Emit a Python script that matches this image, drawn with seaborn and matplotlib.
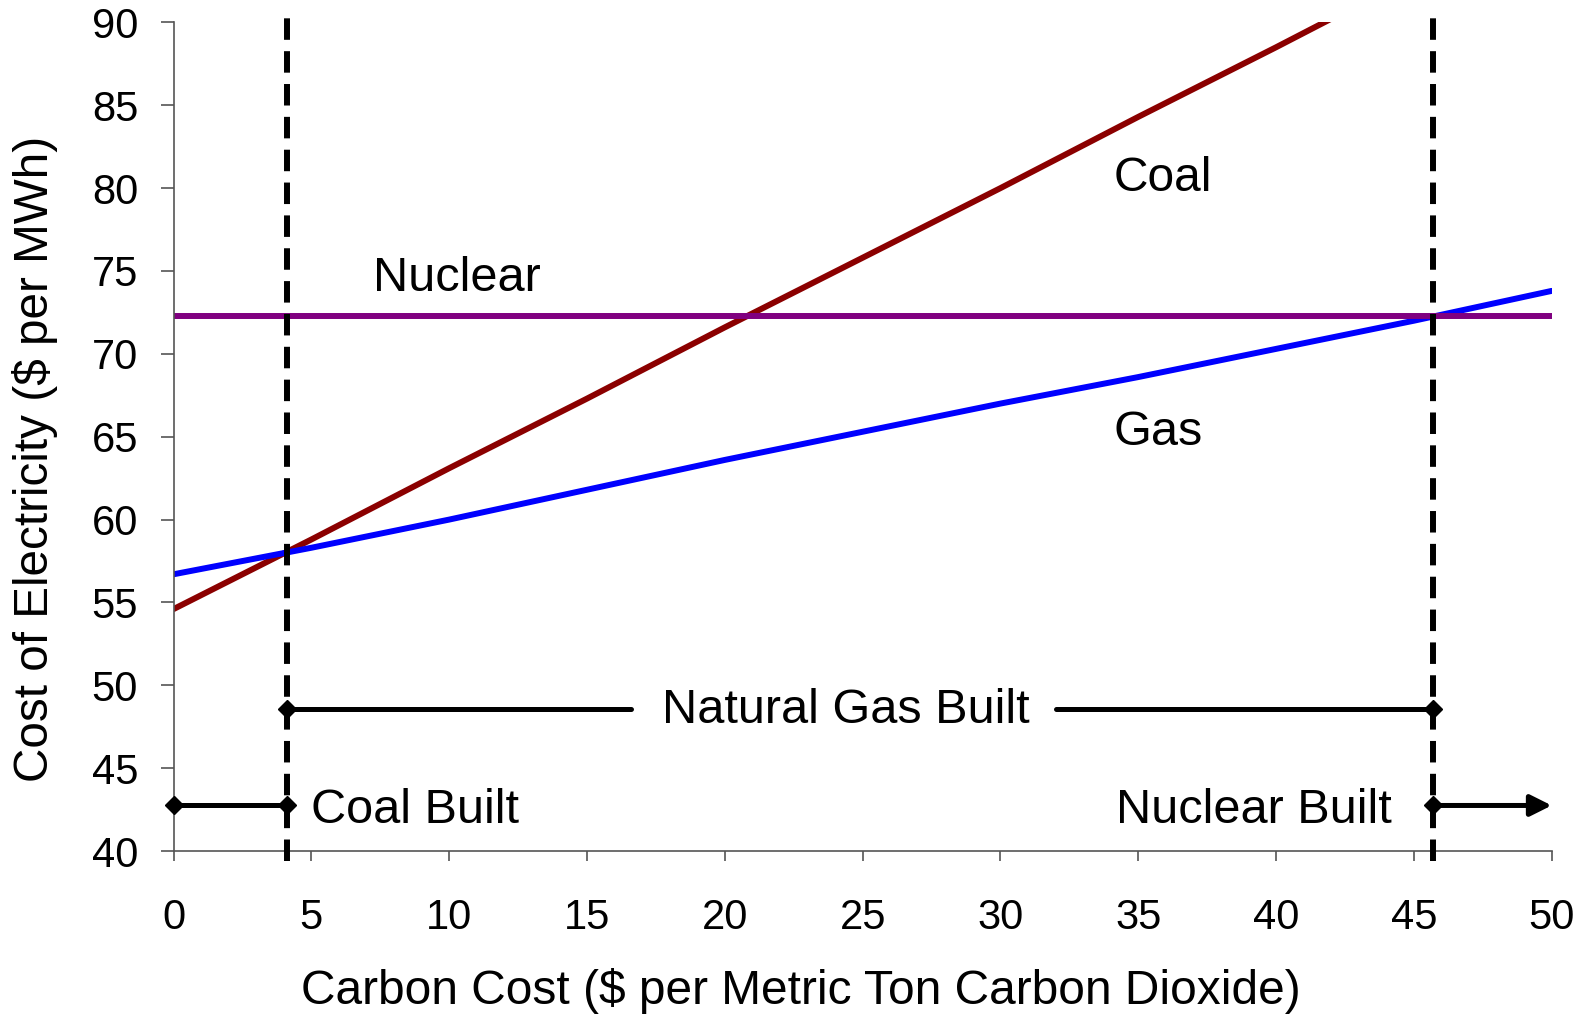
import matplotlib
matplotlib.use("Agg")
import matplotlib.pyplot as plt
import seaborn as sns
import pandas as pd

# Levelized cost of electricity vs. carbon price
carbon_cost = [0, 5, 10, 15, 20, 25, 30, 35, 40, 45, 50]
coal_cost = [54.6, 58.8, 63.1, 67.3, 71.6, 75.8, 80.0, 84.3, 88.5, 92.8, 97.0]
gas_cost = [56.7, 58.3, 60.0, 61.8, 63.6, 65.3, 67.0, 68.6, 70.3, 72.0, 73.8]
nuclear_cost = [72.3] * 11

# Carbon prices where the cheapest technology switches
coal_gas_switch = 4.1
gas_nuclear_switch = 45.7

x_ticks = [0, 5, 10, 15, 20, 25, 30, 35, 40, 45, 50]
y_ticks = [40, 45, 50, 55, 60, 65, 70, 75, 80, 85, 90]

sns.set_theme(style="white")
plt.rcParams["font.family"] = ["Liberation Sans", "DejaVu Sans"]
plt.rcParams["text.color"] = "black"
plt.rcParams["axes.labelcolor"] = "black"
plt.rcParams["xtick.color"] = "black"
plt.rcParams["ytick.color"] = "black"

df = pd.DataFrame({
    "carbon": carbon_cost * 3,
    "cost": coal_cost + gas_cost + nuclear_cost,
    "tech": ["Coal"] * 11 + ["Gas"] * 11 + ["Nuclear"] * 11,
})

fig = plt.figure(figsize=(15.85, 10.18), dpi=100)
ax = fig.add_axes([0.1095, 0.164, 0.8695, 0.814])

sns.lineplot(data=df, x="carbon", y="cost", hue="tech",
             palette={"Coal": "#8B0000", "Gas": "#0000FF", "Nuclear": "#800080"},
             linewidth=4.3, legend=False, ax=ax)

ax.set_xlim(0, 50)
ax.set_ylim(40, 90)
ax.set_xticks(x_ticks)
ax.set_yticks(y_ticks)

# switch-point boundaries
for xs in (coal_gas_switch, gas_nuclear_switch):
    ax.plot([xs, xs], [39.4, 90.6], color="black", lw=4.3,
            dashes=(3.6, 1.9), clip_on=False, zorder=5)

# "Natural Gas Built" range
y_gas = 48.55
ax.plot([coal_gas_switch, 16.6], [y_gas, y_gas], color="black", lw=3.6, zorder=6)
ax.plot([32.0, gas_nuclear_switch], [y_gas, y_gas], color="black", lw=3.6, zorder=6)
ax.plot([coal_gas_switch, gas_nuclear_switch], [y_gas, y_gas], ls="none",
        marker="D", ms=9, color="black", zorder=7)
ax.text(24.4, y_gas - 0.05, "Natural Gas Built", fontsize=35, ha="center", va="center")

# "Coal Built" range
y_low = 42.75
ax.plot([0, coal_gas_switch], [y_low, y_low], color="black", lw=3.6,
        marker="D", ms=9, clip_on=False, zorder=7)
ax.text(5.0, y_low - 0.3, "Coal Built", fontsize=35, ha="left", va="center")

# "Nuclear Built" range
ax.plot([gas_nuclear_switch], [y_low], marker="D", ms=9, color="black", zorder=7)
ax.annotate("", xy=(50, y_low), xytext=(gas_nuclear_switch, y_low),
            arrowprops=dict(arrowstyle="-|>", lw=3.6, color="black",
                            mutation_scale=32, shrinkA=0, shrinkB=0),
            annotation_clip=False, zorder=6)
ax.text(44.2, y_low - 0.3, "Nuclear Built", fontsize=35, ha="right", va="center")

# series labels
ax.text(34.1, 80.6, "Coal", fontsize=34.5, ha="left", va="center")
ax.text(7.25, 74.55, "Nuclear", fontsize=35, ha="left", va="center")
ax.text(34.1, 65.25, "Gas", fontsize=35, ha="left", va="center")

for side in ("top", "right"):
    ax.spines[side].set_visible(False)
for side in ("left", "bottom"):
    ax.spines[side].set_color("#555555")
    ax.spines[side].set_linewidth(1.2)

ax.tick_params(axis="y", direction="out", length=9.5, width=1.2, color="#555555",
               labelsize=30, pad=16, left=True, labelcolor="black")
ax.tick_params(axis="x", direction="out", length=7.5, width=1.2, color="#555555",
               labelsize=30, pad=26, bottom=True, labelcolor="black")

ax.set_xlabel("Carbon Cost ($ per Metric Ton Carbon Dioxide)", fontsize=34.5)
ax.set_ylabel("Cost of Electricity ($ per MWh)", fontsize=34.3)
ax.xaxis.set_label_coords(0.4554, -0.169)
ax.xaxis.label.set_va("center")
ax.yaxis.set_label_coords(-0.1005, 0.473)
ax.yaxis.label.set_va("center")

fig.savefig("out.png", dpi=100)
